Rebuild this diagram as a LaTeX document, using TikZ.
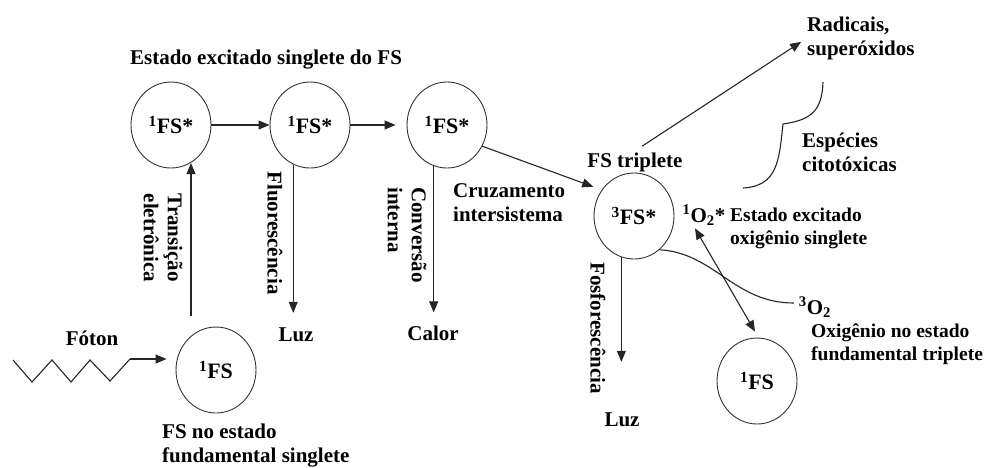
\documentclass[tikz,border=0pt]{standalone}
\usepackage{fontspec}
\setmainfont{Liberation Serif}
\usetikzlibrary{arrows.meta,shapes.geometric,calc}
\begin{document}
\begin{tikzpicture}[x=1pt,y=-1pt,
  st/.style={draw=black!80, line width=0.9pt, ellipse, minimum width=80pt, minimum height=86pt, inner sep=0pt, font=\fontsize{22}{24}\selectfont\bfseries},
  lbl/.style={font=\fontsize{21}{24}\selectfont\bfseries, inner sep=0pt},
  slbl/.style={font=\fontsize{19.5}{23}\selectfont\bfseries, inner sep=0pt},
  arr/.style={draw=black!85, line width=1.1pt, -{Triangle[length=11pt,width=9pt]}},
  darr/.style={draw=black!85, line width=1.1pt, {Triangle[length=11pt,width=9pt]}-{Triangle[length=11pt,width=9pt]}},
  ln/.style={draw=black!85, line width=1.1pt}]
\useasboundingbox (0,0) rectangle (987,467);
% circles
\node[st] (c1) at (171,125) {\textsuperscript{1}FS*};
\node[st] (c2) at (310,125) {\textsuperscript{1}FS*};
\node[st] (c3) at (447,125) {\textsuperscript{1}FS*};
\node[st] (c4) at (634,216) {\textsuperscript{3}FS*};
\node[st] (c5) at (216,370) {\textsuperscript{1}FS};
\node[st] (c6) at (757,381) {\textsuperscript{1}FS};
% labels
\node[lbl] (ttl) at (266,60) {Estado excitado singlete do FS};
\node[lbl, rotate=-90, align=left] (trans) at (163,238) {Transição\\eletrônica};
\node[lbl, rotate=-90] (fluor) at (275,233) {Fluorescência};
\node[lbl, rotate=-90, align=left] (conv) at (407,235) {Conversão\\interna};
\node[lbl, rotate=-90] (fosf) at (598,328) {Fosforescência};
\node[lbl] (luz1) at (296,335) {Luz};
\node[lbl] (calor) at (433,333) {Calor};
\node[lbl] (luz2) at (622,420) {Luz};
\node[lbl] (foton) at (92,338) {Fóton};
\node[lbl, align=left, anchor=west] (fsno) at (162,446) {FS no estado\\fundamental singlete};
\node[lbl, align=left, anchor=west] (cruz) at (453,203) {Cruzamento\\intersistema};
\node[lbl] (fstrip) at (635,162) {FS triplete};
\node[lbl, align=left, anchor=west] (radic) at (807,38) {Radicais,\\superóxidos};
\node[lbl, align=left, anchor=west] (espec) at (802,152) {Espécies\\citotóxicas};
\node[lbl] (o1) at (704,215) {\textsuperscript{1}O\textsubscript{2}*};
\node[slbl, align=left, anchor=west] (estox) at (730,228) {Estado excitado\\oxigênio singlete};
\node[lbl] (o3) at (815,307) {\textsuperscript{3}O\textsubscript{2}};
\node[slbl, align=left, anchor=west] (oxno) at (811,344) {Oxigênio no estado\\fundamental triplete};
% connectors
\draw[arr] (c1) -- (c2);
\draw[arr, shorten >=11pt] (c2) -- (c3);
\draw[arr, shorten >=9pt] (c3.-31) -- (c4.141);
\coordinate (a1) at ([xshift=-25pt,yshift=11pt]c5.north);
\draw[arr] (a1) -- (a1 |- c1.-63);
\draw[arr, shorten >=15pt] (c2.-113) -- (c2.-113 |- luz1.north);
\draw[arr, shorten >=13pt] (c3.-108) -- (c3.-108 |- calor.north);
\draw[arr, shorten >=51pt] (c4.-107) -- (c4.-107 |- luz2.north);
\draw[arr, shorten >=7pt] ([xshift=7pt,yshift=6pt]fstrip.north) -- (radic.west);
% photon zigzag
\coordinate (zz) at (130,359);
\draw[ln] (13,360) -- (32,382) -- (52,360) -- (71,382) -- (90,360) -- (110,381) -- (zz);
\draw[arr, shorten >=9pt] (zz) -- (zz -| c5.west);
% oxygen
\draw[darr] ([xshift=-9pt,yshift=-3pt]o1.south) -- ([xshift=-2pt,yshift=6pt]c6.north);
\draw[ln] (c4.-53) .. controls +(55,3) and +(-60,0) .. ([xshift=-5pt,yshift=4pt]o3.west);
% brace
\draw[ln] (823,82) .. controls (822,112) and (810,120) .. (783,124) .. controls (779,160) and (778,186) .. (743,188);
\end{tikzpicture}
\end{document}
